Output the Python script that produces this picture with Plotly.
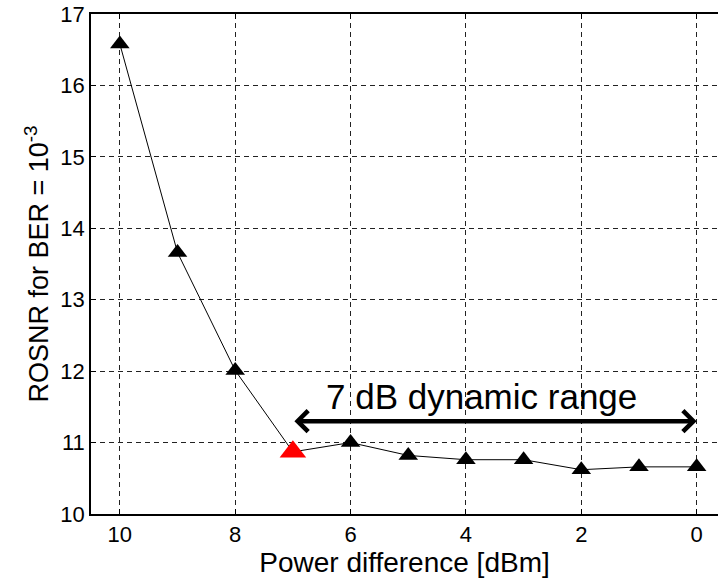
import plotly.graph_objects as go

# Data
power_diff = [10, 9, 8, 7, 6, 5, 4, 3, 2, 1, 0]
rosnr = [16.58, 13.66, 12.01, 10.87, 11.0, 10.82, 10.76, 10.76, 10.62, 10.66, 10.66]
highlight_x = [7]
highlight_y = [10.87]

arrow_start = 7.0
arrow_end = 0.0
arrow_y = 11.3
label_text = "7 dB dynamic range"
label_x = 3.73
label_y = 11.65

x_ticks = [10, 8, 6, 4, 2, 0]
y_ticks = [10, 11, 12, 13, 14, 15, 16, 17]

FONT = "Arial, Liberation Sans, sans-serif"

fig = go.Figure()

fig.add_trace(go.Scatter(
    x=power_diff, y=rosnr, mode="lines+markers",
    line=dict(color="black", width=1),
    marker=dict(symbol="triangle-up", size=17, color="black"),
    showlegend=False, cliponaxis=False,
))
fig.add_trace(go.Scatter(
    x=highlight_x, y=highlight_y, mode="markers",
    marker=dict(symbol="triangle-up", size=23, color="#ff0000"),
    showlegend=False, cliponaxis=False,
))

# double-headed arrow
fig.add_annotation(
    x=arrow_end, y=arrow_y, ax=arrow_start, ay=arrow_y,
    xref="x", yref="y", axref="x", ayref="y",
    text="", showarrow=True, arrowhead=4, startarrowhead=4,
    arrowside="end+start", arrowwidth=4.5, arrowsize=0.9, startarrowsize=0.9,
    arrowcolor="black",
)
fig.add_annotation(
    x=label_x, y=label_y, xref="x", yref="y",
    text=label_text, showarrow=False,
    font=dict(family=FONT, size=35, color="black"),
    xanchor="center", yanchor="middle",
)

grid = dict(showgrid=True, gridcolor="#222222", griddash="5px,4px", gridwidth=1)

fig.update_xaxes(
    range=[10.5, -0.37], tickvals=x_ticks, ticktext=[str(v) for v in x_ticks],
    showline=True, linecolor="black", linewidth=1.5, mirror="ticks",
    ticks="inside", ticklen=5, tickcolor="black",
    tickfont=dict(family=FONT, size=22, color="black"),
    title=dict(text="Power difference [dBm]", font=dict(family=FONT, size=28, color="black"), standoff=1),
    zeroline=False, **grid,
)
fig.update_yaxes(
    range=[10, 17], tickvals=y_ticks, ticktext=[str(v) for v in y_ticks],
    showline=True, linecolor="black", linewidth=1.5, mirror=False,
    ticks="inside", ticklen=5, tickcolor="black",
    tickfont=dict(family=FONT, size=22, color="black"),
    title=dict(text="ROSNR for BER = 10<sup>-3</sup>", font=dict(family=FONT, size=27, color="black"), standoff=4),
    zeroline=False, **grid,
)

fig.update_layout(
    width=718, height=580,
    margin=dict(l=91, r=0, t=14, b=66),
    plot_bgcolor="white", paper_bgcolor="white",
)

fig.write_html("out.html")
